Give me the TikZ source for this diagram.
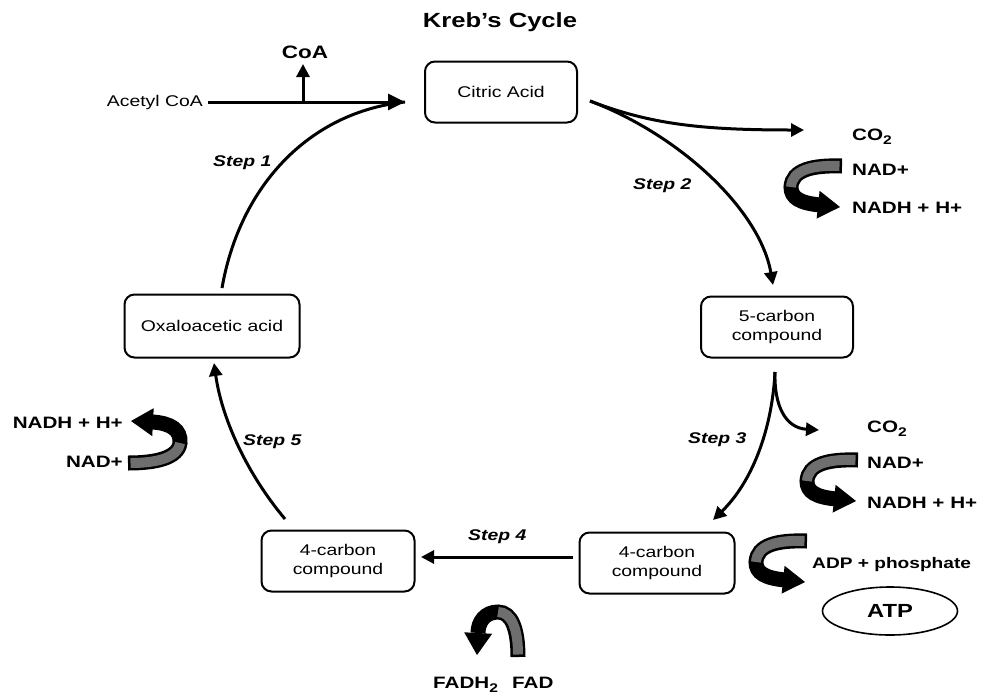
\documentclass[tikz,border=0pt]{standalone}
\usepackage{fontspec}
\setmainfont{Liberation Sans}[FakeStretch=1.25]
\usetikzlibrary{arrows.meta,calc,shapes.geometric}
\definecolor{bandg}{RGB}{110,110,110}
\newcommand{\subtwo}{\raisebox{-4pt}{\fontsize{12.5}{13}\selectfont 2}}
\tikzset{
 box/.style={draw,line width=2pt,rounded corners=10pt,minimum width=152pt,minimum height=61pt,align=center,inner sep=2pt,font=\fontsize{15.5}{19}\selectfont},
 lbl/.style={font=\bfseries\fontsize{16.5}{18}\selectfont,inner sep=0pt},
 steplbl/.style={font=\bfseries\itshape\fontsize{15.5}{17}\selectfont,inner sep=0pt},
 main/.style={line width=3pt,-{Triangle[length=13pt 0 0,width=13pt 0 0]}},
 bigmain/.style={line width=3pt,-{Triangle[length=17pt 0 0,width=16pt 0 0]}},
 plain/.style={line width=3pt},
 bandblack/.style={line width=15pt,black},
 bandgray/.style={line width=10pt,bandg},
 uright/.pic={
  \draw[bandblack] (0,0) .. controls (-30,-1) and (-50,4) .. (-51,21) .. controls (-51,32) and (-42,37) .. (-22,39);
  \draw[bandgray,shorten <=2.5pt] (0,0) .. controls (-30,-1) and (-50,4) .. (-51,21);
  \fill[shift={(-2,41)},rotate=-6] (0,0) -- (-22,14) -- (-22,-14) -- cycle;
 },
 uleft/.pic={
  \draw[bandblack] (0,0) .. controls (28,0) and (50,-5) .. (52,-20) .. controls (53,-33) and (43,-40) .. (24,-41);
  \draw[bandgray,shorten <=2.5pt] (0,0) .. controls (28,0) and (50,-5) .. (52,-20);
  \fill[shift={(3,-42)},rotate=177] (0,0) -- (-22,14) -- (-22,-14) -- cycle;
 },
}
\begin{document}
\begin{tikzpicture}[x=1pt,y=-1pt]
\useasboundingbox (0,0) rectangle (982,694);
\fill[white] (0,0) rectangle (982,694);

% title
\node[lbl,font=\bfseries\fontsize{20.5}{22}\selectfont,anchor=base] (title) at (500,27) {Kreb's Cycle};

% boxes
\node[box] (citric) at (501,92) {Citric Acid};
\node[box] (five) at (777,327) {5-carbon\\compound};
\node[box,minimum width=155pt] (fourR) at (657,563) {4-carbon\\compound};
\node[box,minimum width=153pt] (fourL) at (338,561) {4-carbon\\compound};
\node[box,minimum width=175pt,minimum height=63pt] (oxalo) at (212,326) {Oxaloacetic acid};

% acetyl CoA
\node[font=\fontsize{15.5}{17}\selectfont,inner sep=0pt,anchor=base east] (acetyl) at (203,106) {Acetyl CoA};
\node[lbl,font=\bfseries\fontsize{18}{20}\selectfont,anchor=base] (coa) at (305,58) {CoA};
\coordinate (aL) at (208,102);
\coordinate (cin) at (405,102);
\coordinate (coaj) at (303,102);
\coordinate (coat) at (303,64);
\coordinate (s1a) at (222,288);
\draw[plain] (s1a) .. controls (240,185) and (310,112) .. (cin);
\draw[bigmain] (aL) -- (cin);
\draw[main] (coaj) -- (coat);

% step 2
\coordinate (c2a) at (590,101);
\coordinate (c2b) at (773,285);
\coordinate (c2c) at (804,130);
\draw[main] (c2a) .. controls (680,135) and (760,210) .. (c2b);
\draw[main] (c2a) .. controls (650,124) and (700,130) .. (c2c);

% step 3
\coordinate (c3a) at (775,372);
\coordinate (c3b) at (713,520);
\coordinate (c3c) at (819,430);
\draw[main] (c3a) .. controls (772,430) and (752,482) .. (c3b);
\draw[main] (c3a) .. controls (774,405) and (785,428) .. (c3c);

% step 4
\coordinate (c4a) at (573,557);
\coordinate (c4b) at (421,557);
\draw[main] (c4a) -- (c4b);

% step 5
\coordinate (c5a) at (285,519);
\coordinate (c5b) at (214,363);
\draw[main] (c5a) .. controls (248,475) and (222,420) .. (c5b);

% step labels
\node[steplbl,anchor=base west] (s1) at (213,166) {Step 1};
\node[steplbl,anchor=base west] (s2) at (633,189) {Step 2};
\node[steplbl,anchor=base west] (s3) at (688,443) {Step 3};
\node[steplbl,anchor=base west] (s4) at (468,540) {Step 4};
\node[steplbl,anchor=base west] (s5) at (243,445) {Step 5};

% right labels group 1
\node[lbl,anchor=base west] (co2a) at (852,140) {CO\subtwo};
\node[lbl,anchor=base west] (nada) at (852,175) {NAD+};
\node[lbl,anchor=base west] (nadha) at (852,213) {NADH + H+};
\pic at (842,166) {uright};

% group 2
\node[lbl,anchor=base west] (co2b) at (867,432) {CO\subtwo};
\node[lbl,anchor=base west] (nadb) at (867,468) {NAD+};
\node[lbl,anchor=base west] (nadhb) at (867,508) {NADH + H+};
\pic at (858,460) {uright};

% ATP
\node[lbl,font=\bfseries\fontsize{15.3}{17}\selectfont,anchor=base west] (adp) at (812,568) {ADP + phosphate};
\pic at (807,541) {uright};
\node[draw,ellipse,line width=1.6pt,minimum width=135pt,minimum height=48pt,font=\bfseries\fontsize{19}{20}\selectfont] (atp) at (890,611) {ATP};

% left
\node[lbl,anchor=base east] (nadhl) at (123,428) {NADH + H+};
\node[lbl,anchor=base east] (nadl) at (123,467) {NAD+};
\pic at (128,463) {uleft};

% FAD
\node[lbl,anchor=base west] (fadh) at (433,688) {FADH\subtwo};
\node[lbl,anchor=base west] (fad) at (512,688) {FAD};
\draw[bandblack] (518,657) .. controls (518,630) and (512,612) .. (498,612) .. controls (485,612) and (478,622) .. (478,633);
\draw[bandgray,shorten <=2.5pt] (518,657) .. controls (518,630) and (512,612) .. (498,612);
\fill[shift={(477,655)},rotate=-93] (0,0) -- (-22,14) -- (-22,-14) -- cycle;
\end{tikzpicture}
\end{document}
